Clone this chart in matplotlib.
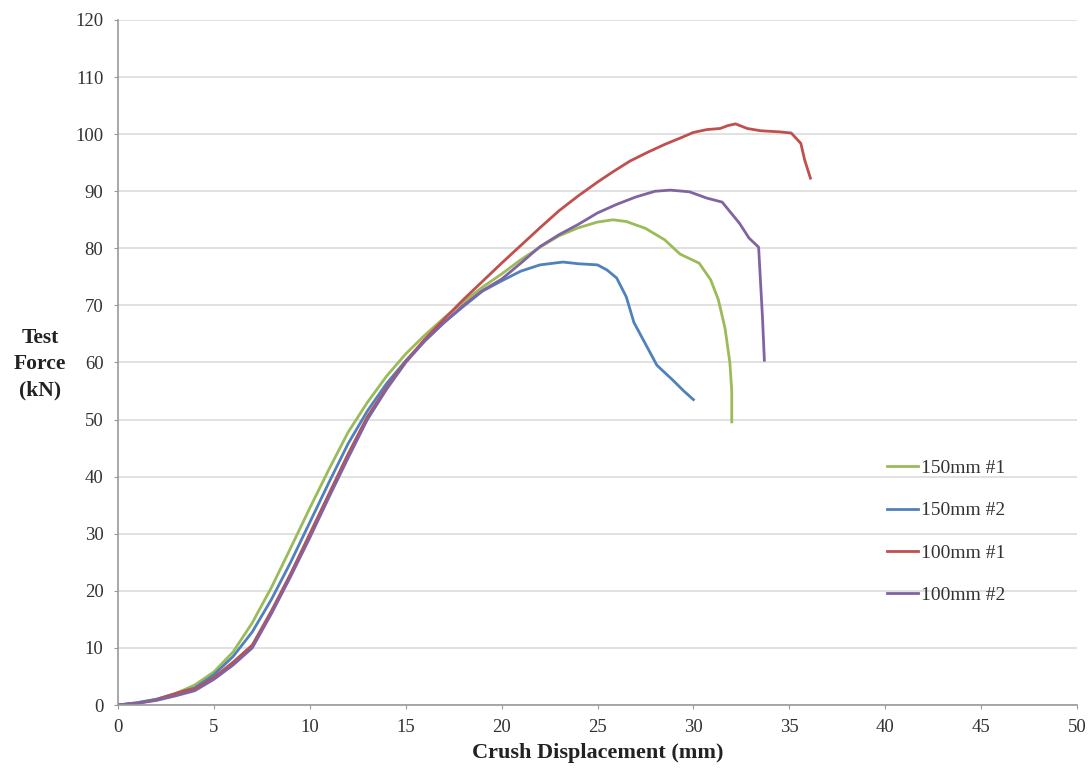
import matplotlib
matplotlib.use("Agg")
import matplotlib.pyplot as plt

# ---- data ----
g_x = [0, 1, 2, 3, 4, 5, 6, 7, 8, 9, 10, 11, 12, 13, 14, 15, 16, 17, 18, 19, 20,
       21, 22, 23, 24, 25, 25.8, 26.5, 27.5, 28.5, 29.3, 30.3, 30.9, 31.3, 31.65, 31.9, 32.0, 32.0]
g_y = [0, 0.4, 1, 2, 3.5, 5.8, 9.3, 14.4, 20.6, 27.5, 34.5, 41.3, 47.8, 53, 57.6, 61.5, 64.8, 67.8, 70.6, 73.2, 75.5,
       78, 80.2, 82.2, 83.6, 84.6, 85, 84.7, 83.5, 81.5, 79, 77.4, 74.5, 71, 66, 60, 55, 49.6]

b_x = [0, 1, 2, 3, 4, 5, 6, 7, 8, 9, 10, 11, 12, 13, 14, 15, 16, 17, 18, 19, 20, 21, 22, 23.2, 24, 25,
       25.5, 26, 26.5, 26.9, 27.3, 27.7, 28.1, 28.9, 29.5, 30]
b_y = [0, 0.4, 1, 2, 3, 5.3, 8.5, 12.8, 18.5, 25, 32, 39, 45.8, 51.5, 56.3, 60.3, 63.8, 67, 69.8, 72.5, 74.3, 76, 77.1, 77.6, 77.3, 77.1,
       76.2, 74.8, 71.5, 67, 64.5, 62, 59.5, 57, 55, 53.5]

r_x = [0, 1, 2, 3, 3.5, 4, 5, 6, 7, 8, 9, 10, 11, 12, 13, 14, 15, 16, 17, 18, 19, 20, 21, 22, 23,
       24, 25, 25.8, 26.7, 27.6, 28.5, 29.3, 30, 30.7, 31.4, 31.8, 32.2, 32.8, 33.5, 34.5, 35.1,
       35.6, 35.8, 36.1]
r_y = [0, 0.3, 0.9, 2, 2.5, 2.8, 4.8, 7.5, 10.5, 16.5, 23, 30, 37, 44, 50.5, 55.6, 60.2, 64.1, 67.6, 71, 74.2, 77.4, 80.5, 83.6, 86.6,
       89.2, 91.6, 93.4, 95.3, 96.8, 98.2, 99.3, 100.3, 100.8, 101, 101.5, 101.8, 101, 100.6, 100.4, 100.2,
       98.4, 95.5, 92.3]

p_x = [0, 1, 2, 3, 4, 5, 6, 7, 8, 9, 10, 11, 12, 13, 14, 15, 16, 17, 18, 19, 20, 21,
       22, 23, 24, 25, 26, 27, 28, 28.8, 29.8, 30.7, 31.5, 32.4, 32.9, 33.4, 33.6, 33.7]
p_y = [0, 0.3, 0.8, 1.6, 2.5, 4.5, 7, 10, 16, 22.5, 29.3, 36.4, 43.3, 50, 55.3, 60, 63.8, 67, 70, 72.6, 74.6, 77.4,
       80.3, 82.4, 84.2, 86.2, 87.7, 89, 90, 90.2, 89.9, 88.8, 88.1, 84.4, 81.8, 80.2, 68, 60.4]

labels = ["150mm #1", "150mm #2", "100mm #1", "100mm #2"]
colors = ["#9BBB59", "#4F81BD", "#C0504D", "#8064A2"]

x_ticks = [0, 5, 10, 15, 20, 25, 30, 35, 40, 45, 50]
y_ticks = [0, 10, 20, 30, 40, 50, 60, 70, 80, 90, 100, 110, 120]

plt.rcParams['font.family'] = ['Liberation Serif', 'DejaVu Serif']

fig = plt.figure(figsize=(10.92, 7.74), dpi=100)
ax = fig.add_axes([118/1092, 1 - 705/774, (1077 - 118)/1092, (705 - 20)/774])

series = [(g_x, g_y), (b_x, b_y), (r_x, r_y), (p_x, p_y)]
for (xs, ys), lab, col in zip(series, labels, colors):
    ax.plot(xs, ys, color=col, lw=2.0, label=lab, solid_joinstyle='round')

ax.set_xlim(0, 50)
ax.set_ylim(0, 120)
ax.set_xticks(x_ticks)
ax.set_yticks(y_ticks)
ax.grid(axis='y', color='#DCDCDC', lw=1.2)
ax.set_axisbelow(True)
for s in ['top', 'right']:
    ax.spines[s].set_visible(False)
for s in ['left', 'bottom']:
    ax.spines[s].set_color('#9A9A9A')
    ax.spines[s].set_linewidth(1.2)
ax.tick_params(axis='both', colors='#9A9A9A', labelcolor='#333333', labelsize=13.5, length=3)
ax.tick_params(axis='y', pad=7.5)
ax.tick_params(axis='x', pad=7)

ax.set_xlabel("Crush Displacement (mm)", fontsize=16, fontweight='bold', color='#222222', labelpad=5)
fig.text(40/1092, 1 - 364/774, "Test\nForce\n(kN)", ha='center', va='center',
         fontsize=15.5, fontweight='bold', color='#222222', linespacing=1.4)

leg = ax.legend(frameon=False, loc='center left', bbox_to_anchor=(0.802, 0.253),
                fontsize=14, handlelength=1.6, labelspacing=1.27, handletextpad=0.15,
                borderpad=0, borderaxespad=0)
for t in leg.get_texts():
    t.set_color('#333333')

fig.savefig("out.png", dpi=100, facecolor='white')
